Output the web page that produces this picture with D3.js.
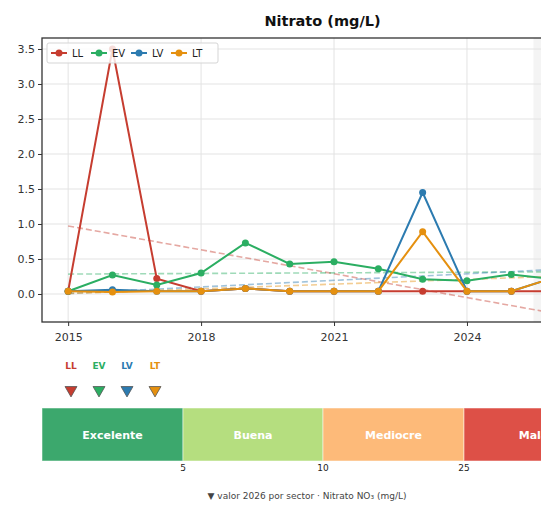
<!DOCTYPE html>
<html>
<head>
<meta charset="utf-8">
<script src="https://cdn.jsdelivr.net/npm/d3@7"></script>
<style>
  body { margin: 0; overflow: hidden; background: #fff; }
  text { font-family: "DejaVu Sans", sans-serif; }
</style>
</head>
<body>
<svg id="chart" width="640" height="508"></svg>
<script>
// data
let years = [2015, 2016, 2017, 2018, 2019, 2020, 2021, 2022, 2023, 2024, 2025, 2026];
let sectors = ["LL", "EV", "LV", "LT"];
let valuesLL = [0.04, 3.50, 0.22, 0.04, 0.08, 0.04, 0.04, 0.04, 0.04, 0.04, 0.04, 0.04];
let valuesEV = [0.04, 0.27, 0.13, 0.30, 0.73, 0.43, 0.46, 0.36, 0.21, 0.19, 0.28, 0.21];
let valuesLV = [0.04, 0.06, 0.04, 0.04, 0.08, 0.04, 0.04, 0.04, 1.45, 0.04, 0.04, 0.24];
let valuesLT = [0.04, 0.03, 0.04, 0.04, 0.08, 0.04, 0.04, 0.04, 0.89, 0.04, 0.04, 0.24];
let sectorColors = ["#c63d30", "#2bae62", "#2c7bb0", "#e5900f"];
let yTicks = [0, 0.5, 1, 1.5, 2, 2.5, 3, 3.5];
let xTicks = [2015, 2018, 2021, 2024, 2027];

// quality bands for nitrate
let bandNames = ["Excelente", "Buena", "Mediocre", "Mala"];
let bandLimits = [0, 5, 10, 25, 50];
let bandColors = ["#3ca86d", "#b5de7f", "#fdba79", "#dd5047"];
let bandTickLabels = [5, 10, 25];

let series = [valuesLL, valuesEV, valuesLV, valuesLT];

let svg = d3.select("#chart");

// plot area
let pLeft = 42, pRight = 603, pTop = 38, pBottom = 322;
let x = d3.scaleLinear().domain([2014.41, 2027.07]).range([pLeft, pRight]);
let y = d3.scaleLinear().domain([-0.4, 3.657]).range([pBottom, pTop]);

svg.append("text")
    .attr("x", (pLeft + pRight) / 2)
    .attr("y", 26)
    .attr("text-anchor", "middle")
    .attr("font-size", 14.5)
    .attr("font-weight", "bold")
    .attr("fill", "#111")
    .text("Nitrato (mg/L)");

// highlight of the last year
svg.append("rect")
    .attr("x", x(2025.5))
    .attr("y", pTop)
    .attr("width", x(2026.5) - x(2025.5))
    .attr("height", pBottom - pTop)
    .attr("fill", "#ececec")
    .attr("opacity", 0.6);

// grid
svg.append("g").selectAll("line")
    .data(yTicks).enter()
    .append("line")
    .attr("x1", pLeft).attr("x2", pRight)
    .attr("y1", d => y(d)).attr("y2", d => y(d))
    .attr("stroke", "#e3e3e3").attr("stroke-width", 1);
svg.append("g").selectAll("line")
    .data(xTicks).enter()
    .append("line")
    .attr("x1", d => x(d)).attr("x2", d => x(d))
    .attr("y1", pTop).attr("y2", pBottom)
    .attr("stroke", "#e3e3e3").attr("stroke-width", 1);

// trend lines (least squares over each series)
function trend(vals) {
    let mx = d3.mean(years), my = d3.mean(vals);
    let sxy = d3.sum(years, (yr, i) => (yr - mx) * (vals[i] - my));
    let sxx = d3.sum(years, yr => (yr - mx) * (yr - mx));
    let b = sxy / sxx;
    return yr => my + b * (yr - mx);
}

let plot = svg.append("g");
plot.append("clipPath").attr("id", "clip")
    .append("rect").attr("x", pLeft).attr("y", pTop)
    .attr("width", pRight - pLeft).attr("height", pBottom - pTop);
let inner = plot.append("g").attr("clip-path", "url(#clip)");

series.forEach(function(vals, i) {
    let f = trend(vals);
    inner.append("line")
        .attr("x1", x(years[0])).attr("y1", y(f(years[0])))
        .attr("x2", x(years[years.length - 1])).attr("y2", y(f(years[years.length - 1])))
        .attr("stroke", sectorColors[i])
        .attr("stroke-opacity", 0.45)
        .attr("stroke-width", 1.6)
        .attr("stroke-dasharray", "6,3");
});

let line = d3.line().x((d, i) => x(years[i])).y(d => y(d));
series.forEach(function(vals, i) {
    inner.append("path")
        .attr("d", line(vals))
        .attr("fill", "none")
        .attr("stroke", sectorColors[i])
        .attr("stroke-width", 2);
    inner.selectAll(".pt" + i)
        .data(vals).enter()
        .append("circle")
        .attr("cx", (d, j) => x(years[j]))
        .attr("cy", d => y(d))
        .attr("r", 3.5)
        .attr("fill", sectorColors[i]);
});

// axes
let axisY = d3.axisLeft(y).tickValues(yTicks).tickFormat(d3.format(".1f")).tickSize(4);
let axisX = d3.axisBottom(x).tickValues(xTicks).tickFormat(d3.format("d")).tickSize(4);
let gy = svg.append("g").attr("transform", "translate(" + pLeft + ",0)").call(axisY);
let gx = svg.append("g").attr("transform", "translate(0," + pBottom + ")").call(axisX);
[gx, gy].forEach(function(g) {
    g.select(".domain").remove();
    g.selectAll("text").attr("font-size", 11).attr("fill", "#333")
        .attr("font-family", "DejaVu Sans, sans-serif");
    g.selectAll("line").attr("stroke", "#333");
});
gx.selectAll("text").attr("dy", "1.1em");

// frame
svg.append("rect")
    .attr("x", pLeft).attr("y", pTop)
    .attr("width", pRight - pLeft).attr("height", pBottom - pTop)
    .attr("fill", "none").attr("stroke", "#333").attr("stroke-width", 1.3);

// legend
let legend = svg.append("g").attr("transform", "translate(47,43)");
legend.append("rect")
    .attr("width", 171).attr("height", 20).attr("rx", 2)
    .attr("fill", "#fff").attr("fill-opacity", 0.82)
    .attr("stroke", "#d5d5d5");
let legX = d3.scalePoint().domain(sectors).range([4, 124]);
let items = legend.selectAll(".item")
    .data(sectors).enter()
    .append("g")
    .attr("transform", d => "translate(" + legX(d) + ",10)");
items.append("line")
    .attr("x1", 0).attr("x2", 16)
    .attr("stroke", (d, i) => sectorColors[i]).attr("stroke-width", 2);
items.append("circle")
    .attr("cx", 8).attr("r", 3.5)
    .attr("fill", (d, i) => sectorColors[i]);
items.append("text")
    .attr("x", 21).attr("y", 3.5)
    .attr("font-size", 10).attr("fill", "#222")
    .text(d => d);

// quality scale below
let barTop = 408, barHeight = 53;
let xq = d3.scaleLinear().domain(bandLimits).range([pLeft, 183, 323, 464, pRight]);

let bands = svg.append("g").selectAll("g")
    .data(bandNames).enter()
    .append("g");
bands.append("rect")
    .attr("x", (d, i) => xq(bandLimits[i]))
    .attr("y", barTop)
    .attr("width", (d, i) => xq(bandLimits[i + 1]) - xq(bandLimits[i]))
    .attr("height", barHeight)
    .attr("fill", (d, i) => bandColors[i])
    .attr("stroke", "#fff").attr("stroke-opacity", 0.5).attr("stroke-width", 1);
bands.append("text")
    .attr("x", (d, i) => (xq(bandLimits[i]) + xq(bandLimits[i + 1])) / 2)
    .attr("y", barTop + barHeight / 2 + 4)
    .attr("text-anchor", "middle")
    .attr("font-size", 11).attr("font-weight", "bold")
    .attr("fill", "#fff")
    .text(d => d);

svg.append("g").selectAll("text")
    .data(bandTickLabels).enter()
    .append("text")
    .attr("x", d => xq(d))
    .attr("y", barTop + barHeight + 10)
    .attr("text-anchor", "middle")
    .attr("font-size", 9).attr("fill", "#222")
    .text(d => d);

// 2026 value markers, spread out by sector
let xs = d3.scalePoint().domain(sectors).range([71, 155]);
svg.append("g").selectAll("text")
    .data(sectors).enter()
    .append("text")
    .attr("x", d => xs(d))
    .attr("y", 369)
    .attr("text-anchor", "middle")
    .attr("font-size", 9).attr("font-weight", "bold")
    .attr("fill", (d, i) => sectorColors[i])
    .text(d => d);
let tri = d3.symbol().type(d3.symbolTriangle).size(62);
svg.append("g").selectAll("path")
    .data(sectors).enter()
    .append("path")
    .attr("d", tri)
    .attr("transform", d => "translate(" + xs(d) + ",390) rotate(180)")
    .attr("fill", (d, i) => sectorColors[i])
    .attr("stroke", "#555").attr("stroke-width", 0.8);

svg.append("text")
    .attr("x", 307)
    .attr("y", 499)
    .attr("text-anchor", "middle")
    .attr("font-size", 9).attr("fill", "#444")
    .text("▼ valor 2026 por sector · Nitrato NO₃ (mg/L)");
</script>
</body>
</html>
